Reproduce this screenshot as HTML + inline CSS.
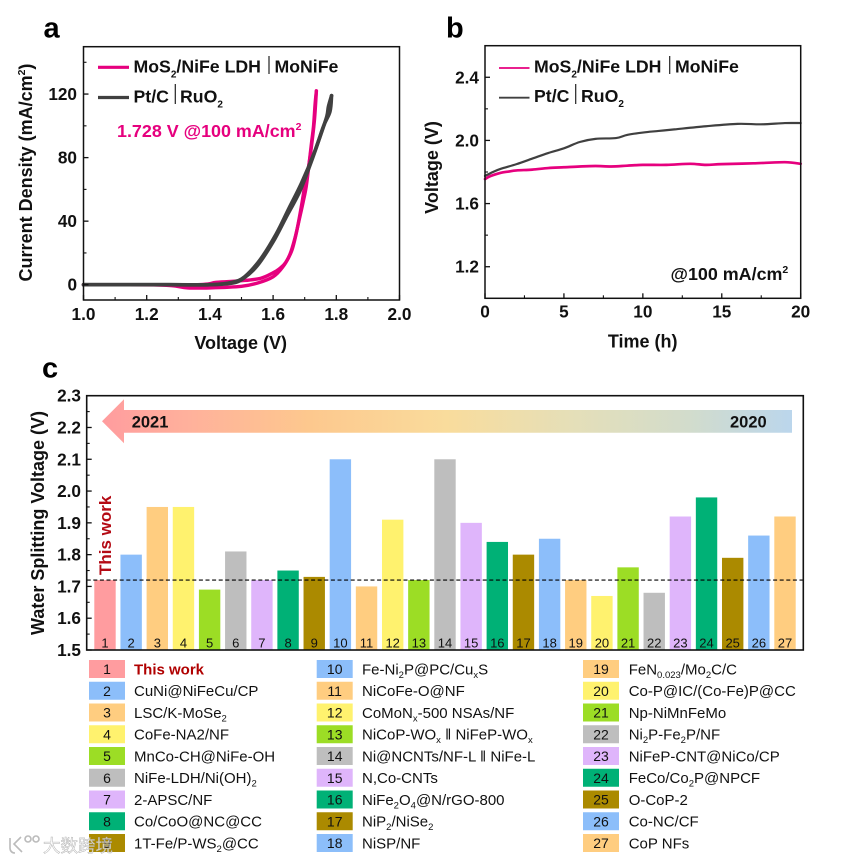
<!DOCTYPE html>
<html lang="en">
<head>
<meta charset="utf-8">
<title>Water splitting performance chart</title>
<style>
html,body{margin:0;padding:0;background:#fff;width:867px;height:861px;overflow:hidden}
svg{display:block}
text{font-family:"Liberation Sans","Noto Sans CJK SC",sans-serif;fill:#111}
.b{font-weight:700}
.tick{font-weight:700;font-size:17.2px}
.title{font-weight:700;font-size:18px}
.leg{font-weight:700;font-size:17.7px}
.letter{font-weight:700;font-size:29px;fill:#000}
</style>
</head>
<body>
<svg id="figure" xmlns="http://www.w3.org/2000/svg" width="867" height="861" viewBox="0 0 867 861">
  <defs>
    <linearGradient id="arrowGrad" gradientUnits="userSpaceOnUse" x1="102" y1="0" x2="792" y2="0">
      <stop offset="0" stop-color="#ff9c9e"/>
      <stop offset="0.12" stop-color="#ffb09c"/>
      <stop offset="0.3" stop-color="#fdc88e"/>
      <stop offset="0.5" stop-color="#f9dc9c"/>
      <stop offset="0.68" stop-color="#e5dfb8"/>
      <stop offset="0.85" stop-color="#d2dccc"/>
      <stop offset="1" stop-color="#bbd6ec"/>
    </linearGradient>
  </defs>

  <text class="letter" x="43.5" y="37.5">a</text>
  <text class="letter" x="446" y="37.5">b</text>
  <text class="letter" x="42" y="377.5">c</text>

  <g id="panelA"></g>
  <g id="panelB"></g>
  <g id="panelC"></g>

  <!-- panel a text -->
  <line x1="98" y1="67.3" x2="129" y2="67.3" stroke="#e6007e" stroke-width="3.2"/>
  <text class="leg" x="133.5" y="72.5">MoS<tspan font-size="10" dy="5">2</tspan><tspan dy="-5">/NiFe LDH</tspan></text>
  <line x1="269" y1="56" x2="269" y2="74" stroke="#222" stroke-width="1.2"/>
  <text class="leg" x="274.5" y="72.5">MoNiFe</text>
  <line x1="98" y1="97.5" x2="129" y2="97.5" stroke="#404040" stroke-width="3.2"/>
  <text class="leg" x="133.5" y="102.5">Pt/C</text>
  <line x1="175.3" y1="84" x2="175.3" y2="104" stroke="#222" stroke-width="1.2"/>
  <text class="leg" x="180" y="102.5">RuO<tspan font-size="10" dy="5">2</tspan></text>
  <text class="b" x="117" y="136.8" font-size="17.9" style="fill:#e6007e">1.728 V @100 mA/cm<tspan font-size="10.5" dy="-7">2</tspan></text>
  <text class="title" x="240.7" y="349" text-anchor="middle">Voltage (V)</text>
  <text class="title" transform="translate(32 172.5) rotate(-90)" text-anchor="middle">Current Density (mA/cm<tspan font-size="10.5" dy="-7">2</tspan><tspan dy="7">)</tspan></text>

  <!-- panel b text -->
  <line x1="499" y1="68" x2="529.5" y2="68" stroke="#e6007e" stroke-width="1.8"/>
  <text class="leg" x="534" y="72.5">MoS<tspan font-size="10" dy="5">2</tspan><tspan dy="-5">/NiFe LDH</tspan></text>
  <line x1="669.7" y1="56" x2="669.7" y2="74" stroke="#222" stroke-width="1.2"/>
  <text class="leg" x="675" y="72.5">MoNiFe</text>
  <line x1="499" y1="97.7" x2="529.5" y2="97.7" stroke="#404040" stroke-width="1.8"/>
  <text class="leg" x="534" y="102">Pt/C</text>
  <line x1="575.7" y1="84" x2="575.7" y2="104" stroke="#222" stroke-width="1.2"/>
  <text class="leg" x="581" y="102">RuO<tspan font-size="10" dy="5">2</tspan></text>
  <text class="b" x="670.5" y="280" font-size="17.9">@100 mA/cm<tspan font-size="10.5" dy="-7">2</tspan></text>
  <text class="title" x="642.7" y="347.7" text-anchor="middle">Time (h)</text>
  <text class="title" transform="translate(438 167.5) rotate(-90)" text-anchor="middle">Voltage (V)</text>

  <!-- panel c text -->
  <text class="title" transform="translate(44 523) rotate(-90)" text-anchor="middle">Water Splitting Voltage (V)</text>

  <g id="legendC"></g>

  <text x="43" y="852" font-size="17.5" style="fill:#ffffff;fill-opacity:.72;stroke:#999;stroke-width:.5;stroke-opacity:.75">大数跨境</text>
  <g fill="none" stroke="#bbb" stroke-width="1.6">
    <path d="M10 838v10c0 3 2 5 5 5M21 837l-7 7 8 8"/>
    <circle cx="28" cy="839" r="3"/>
    <circle cx="36" cy="839" r="3"/>
  </g>
</svg>

<script>
/* Panel a: polarization curves */
const pinkForwardV = [1.0, 1.2, 1.28, 1.33, 1.4, 1.5, 1.55, 1.6, 1.63, 1.653, 1.67, 1.685, 1.695, 1.705, 1.715, 1.722, 1.728, 1.733, 1.737];
const pinkForwardJ = [0, 0, -0.6, -2, -2, -1, 1, 5, 11, 19, 30, 43, 52, 62, 78, 90, 100, 114, 122];
const pinkBackwardV = [1.737, 1.731, 1.722, 1.712, 1.70, 1.69, 1.675, 1.66, 1.64, 1.62, 1.6, 1.56, 1.5, 1.42, 1.35, 1.0];
const pinkBackwardJ = [122, 104, 88, 74, 62, 50, 34, 22, 14, 10, 7.5, 4, 2.5, 1.5, 0, 0];
const darkForwardV = [1.0, 1.27, 1.4, 1.47, 1.506, 1.55, 1.6, 1.64, 1.685, 1.72, 1.75, 1.77, 1.775, 1.785];
const darkForwardJ = [0, 0, 0, 1, 4, 12, 27, 42, 59, 77, 94, 106, 112, 119];
const darkBackwardV = [1.785, 1.78, 1.76, 1.73, 1.69, 1.65, 1.61, 1.56, 1.51, 1.47, 1.4, 1.27, 1.0];
const darkBackwardJ = [119, 109, 100, 83, 64, 48, 32, 16, 5, 1.5, 0, 0, 0];
const aXTicks = [1.0, 1.2, 1.4, 1.6, 1.8, 2.0];
const aXMinor = [1.1, 1.3, 1.5, 1.7, 1.9];
const aYTicks = [0, 40, 80, 120];
const aYMinor = [20, 60, 100, 140];

/* Panel b: stability curves */
const pinkTime = [0, 0.25, 0.5, 1, 1.5, 2, 3, 4, 5, 6, 7, 8, 9, 10, 11.5, 13, 14, 15, 17, 19, 20];
const pinkVoltage = [1.755, 1.77, 1.78, 1.795, 1.803, 1.81, 1.815, 1.825, 1.83, 1.835, 1.838, 1.835, 1.84, 1.845, 1.845, 1.852, 1.845, 1.85, 1.855, 1.862, 1.852];
const darkTime = [0, 0.5, 1, 2, 3, 4, 5, 6, 7, 8.3, 9, 10, 11, 12, 14, 16, 17.5, 19, 20];
const darkVoltage = [1.775, 1.8, 1.82, 1.85, 1.885, 1.92, 1.95, 1.99, 2.01, 2.015, 2.035, 2.05, 2.06, 2.07, 2.09, 2.105, 2.102, 2.11, 2.11];
const bXTicks = [0, 5, 10, 15, 20];
const bXMinor = [2.5, 7.5, 12.5, 17.5];
const bYTicks = [1.2, 1.6, 2.0, 2.4];
const bYMinor = [1.4, 1.8, 2.2];

/* Panel c: catalyst comparison */
const catalystNames = ["This work","CuNi@NiFeCu/CP","LSC/K-MoSe{2}","CoFe-NA2/NF","MnCo-CH@NiFe-OH","NiFe-LDH/Ni(OH){2}","2-APSC/NF","Co/CoO@NC@CC","1T-Fe/P-WS{2}@CC","Fe-Ni{2}P@PC/Cu{x}S","NiCoFe-O@NF","CoMoN{x}-500 NSAs/NF","NiCoP-WO{x} ǁ NiFeP-WO{x}","Ni@NCNTs/NF-L ǁ NiFe-L","N,Co-CNTs","NiFe{2}O{4}@N/rGO-800","NiP{2}/NiSe{2}","NiSP/NF","FeN{0.023}/Mo{2}C/C","Co-P@IC/(Co-Fe)P@CC","Np-NiMnFeMo","Ni{2}P-Fe{2}P/NF","NiFeP-CNT@NiCo/CP","FeCo/Co{2}P@NPCF","O-CoP-2","Co-NC/CF","CoP NFs"];
const splittingVoltage = [1.72,1.80,1.95,1.95,1.69,1.81,1.72,1.75,1.73,2.10,1.70,1.91,1.72,2.10,1.90,1.84,1.80,1.85,1.72,1.67,1.76,1.68,1.92,1.98,1.79,1.86,1.92];
const referenceVoltage = 1.72;
const cYTicks = [1.5,1.6,1.7,1.8,1.9,2.0,2.1,2.2,2.3];
const cYMinor = [1.55,1.65,1.75,1.85,1.95,2.05,2.15,2.25];
const barPalette = ["#8cbefa","#ffcd80","#fff26e","#9cdd25","#bebebe","#dfb5fb","#00b176","#ab8a00"];

const NS = "http://www.w3.org/2000/svg";
function make(tag, parent, attrs) {
  const e = document.createElementNS(NS, tag);
  for (const k in attrs) e.setAttribute(k, attrs[k]);
  parent.appendChild(e);
  return e;
}
function linear(d0, d1, r0, r1) {
  return v => r0 + (v - d0) / (d1 - d0) * (r1 - r0);
}
/* Smooth path through the data points (Catmull-Rom converted to cubic Bezier). */
function pathOf(xs, ys, fx, fy) {
  const pts = xs.map((v, i) => [fx(v), fy(ys[i])]);
  let d = "M" + pts[0][0].toFixed(2) + " " + pts[0][1].toFixed(2);
  for (let i = 0; i < pts.length - 1; i++) {
    const p0 = pts[Math.max(i - 1, 0)], p1 = pts[i], p2 = pts[i + 1], p3 = pts[Math.min(i + 2, pts.length - 1)];
    const c1x = p1[0] + (p2[0] - p0[0]) / 6, c1y = p1[1] + (p2[1] - p0[1]) / 6;
    const c2x = p2[0] - (p3[0] - p1[0]) / 6, c2y = p2[1] - (p3[1] - p1[1]) / 6;
    d += "C" + c1x.toFixed(2) + " " + c1y.toFixed(2) + " " + c2x.toFixed(2) + " " + c2y.toFixed(2) + " " + p2[0].toFixed(2) + " " + p2[1].toFixed(2);
  }
  return d;
}
function drawCurve(parent, xs, ys, fx, fy, color, width, name) {
  const p = make("path", parent, {d: pathOf(xs, ys, fx, fy), fill: "none", stroke: color, "stroke-width": width, "stroke-linejoin": "round", "stroke-linecap": "round"});
  
  
}
function drawFrame(parent, l, t, r, b, width) {
  const f = make("rect", parent, {x: l, y: t, width: r - l, height: b - t, fill: "none", stroke: "#111", "stroke-width": width});
  
  
}
function drawXAxis(parent, ticks, minor, fx, b, labelY, digits) {
  ticks.forEach(v => {
    const t = make("line", parent, {x1: fx(v), x2: fx(v), y1: b, y2: b - 5, stroke: "#111", "stroke-width": 1.3});
    
    
    const s = make("text", parent, {x: fx(v), y: labelY, "text-anchor": "middle", class: "tick"});
    s.textContent = v.toFixed(digits);
    
    
  });
  minor.forEach(v => {
    const t = make("line", parent, {x1: fx(v), x2: fx(v), y1: b, y2: b - 3, stroke: "#111", "stroke-width": 1.1});
    
    
  });
}
function drawYAxis(parent, ticks, minor, fy, l, labelX, digits) {
  ticks.forEach(v => {
    const t = make("line", parent, {x1: l, x2: l + 5, y1: fy(v), y2: fy(v), stroke: "#111", "stroke-width": 1.3});
    
    
    const s = make("text", parent, {x: labelX, y: fy(v) + 6, "text-anchor": "end", class: "tick"});
    s.textContent = v.toFixed(digits);
    
    
  });
  minor.forEach(v => {
    const t = make("line", parent, {x1: l, x2: l + 3, y1: fy(v), y2: fy(v), stroke: "#111", "stroke-width": 1.1});
    
    
  });
}

/* Panel a */
(function () {
  const g = document.getElementById("panelA");
  const L = 83.5, R = 399.5, T = 46.7, B = 300;
  const fx = linear(1, 2, L, R), fy = linear(-10, 150, 300.6, 46.4);
  drawCurve(g, pinkForwardV, pinkForwardJ, fx, fy, "#e6007e", 3.4, "curve-mos2-forward");
  drawCurve(g, pinkBackwardV, pinkBackwardJ, fx, fy, "#e6007e", 3.4, "curve-mos2-backward");
  drawCurve(g, darkForwardV, darkForwardJ, fx, fy, "#404040", 3.6, "curve-ptc-forward");
  drawCurve(g, darkBackwardV, darkBackwardJ, fx, fy, "#404040", 3.6, "curve-ptc-backward");
  drawFrame(g, L, T, R, B, 1.5);
  drawXAxis(g, aXTicks, aXMinor, fx, B, 320, 1);
  drawYAxis(g, aYTicks, aYMinor, fy, L, 77, 0);
})();

/* Panel b */
(function () {
  const g = document.getElementById("panelB");
  const L = 485, R = 800.7, T = 45.7, B = 298.3;
  const fx = linear(0, 20, L, R), fy = linear(1.0, 2.6, B, T);
  drawCurve(g, pinkTime, pinkVoltage, fx, fy, "#e6007e", 2.7, "curve-mos2-stability");
  drawCurve(g, darkTime, darkVoltage, fx, fy, "#404040", 2.2, "curve-ptc-stability");
  drawFrame(g, L, T, R, B, 1.5);
  drawXAxis(g, bXTicks, bXMinor, fx, B, 317.5, 0);
  drawYAxis(g, bYTicks, bYMinor, fy, L, 479, 1);
})();

/* Panel c */
(function () {
  const g = document.getElementById("panelC");
  const L = 86.7, R = 803.3, T = 395.7, B = 650;
  const fx = linear(1, 27, 105, 785), fy = linear(1.5, 2.3, B, T);
  const barW = 21.4;

  const body = make("path", g, {d: "M102 421.3L124 399.3V410H792V432.7H124V443.3Z", fill: "url(#arrowGrad)"});
  
  
  const y21 = make("text", g, {x: 131.7, y: 427.5, "font-size": 16.5, class: "b"});
  y21.textContent = "2021";
  
  
  const y20 = make("text", g, {x: 730, y: 427.5, "font-size": 16.5, class: "b"});
  y20.textContent = "2020";
  
  

  splittingVoltage.forEach((v, i) => {
    const n = i + 1;
    const color = i === 0 ? "#ff9c9f" : barPalette[(i - 1) % barPalette.length];
    const r = make("rect", g, {x: fx(n) - barW / 2, y: fy(v), width: barW, height: B - fy(v), fill: color});
    
    
    const s = make("text", g, {x: fx(n), y: 647.3, "text-anchor": "middle", "font-size": 13});
    s.textContent = n;
    
    
  });

  const ref = make("line", g, {x1: L, x2: R, y1: fy(referenceVoltage), y2: fy(referenceVoltage), stroke: "#000", "stroke-width": 1.2, "stroke-dasharray": "4 2.6"});
  
  

  const tw = make("text", g, {transform: "translate(111 575) rotate(-90)", "font-size": 17, class: "b", style: "fill:#b40a14"});
  tw.textContent = "This work";
  
  

  drawFrame(g, L, T, R, B, 1.6);
  drawYAxis(g, cYTicks, cYMinor, fy, L, 81, 1);
})();

/* Panel c legend */
(function () {
  const g = document.getElementById("legendC");
  const swatchX = [89, 316.7, 583];
  const textX = [134, 362, 628.7];
  catalystNames.forEach((name, i) => {
    const col = Math.floor(i / 9), row = i % 9;
    const cy = 669 + row * 21.75;
    const color = i === 0 ? "#ff9c9f" : barPalette[(i - 1) % barPalette.length];
    const r = make("rect", g, {x: swatchX[col], y: cy - 9, width: 36, height: 18, fill: color});
    
    
    const n = make("text", g, {x: swatchX[col] + 18, y: cy + 5, "text-anchor": "middle", "font-size": 14});
    n.textContent = i + 1;
    
    
    const t = make("text", g, {x: textX[col], y: cy + 5.3, "font-size": 15});
    
    
    if (i === 0) {
      t.setAttribute("font-weight", "700");
      t.setAttribute("style", "fill:#b00000");
    }
    let shifted = false;
    name.split(/(\{[^}]*\})/).filter(Boolean).forEach(part => {
      const isSub = part[0] === "{";
      const ts = make("tspan", t, {});
      ts.textContent = isSub ? part.slice(1, -1) : part;
      if (isSub) {
        ts.setAttribute("font-size", 9.5);
        ts.setAttribute("dy", shifted ? 0 : 3.5);
        shifted = true;
      } else if (shifted) {
        ts.setAttribute("dy", -3.5);
        shifted = false;
      }
    });
  });
})();
</script>
</body>
</html>
